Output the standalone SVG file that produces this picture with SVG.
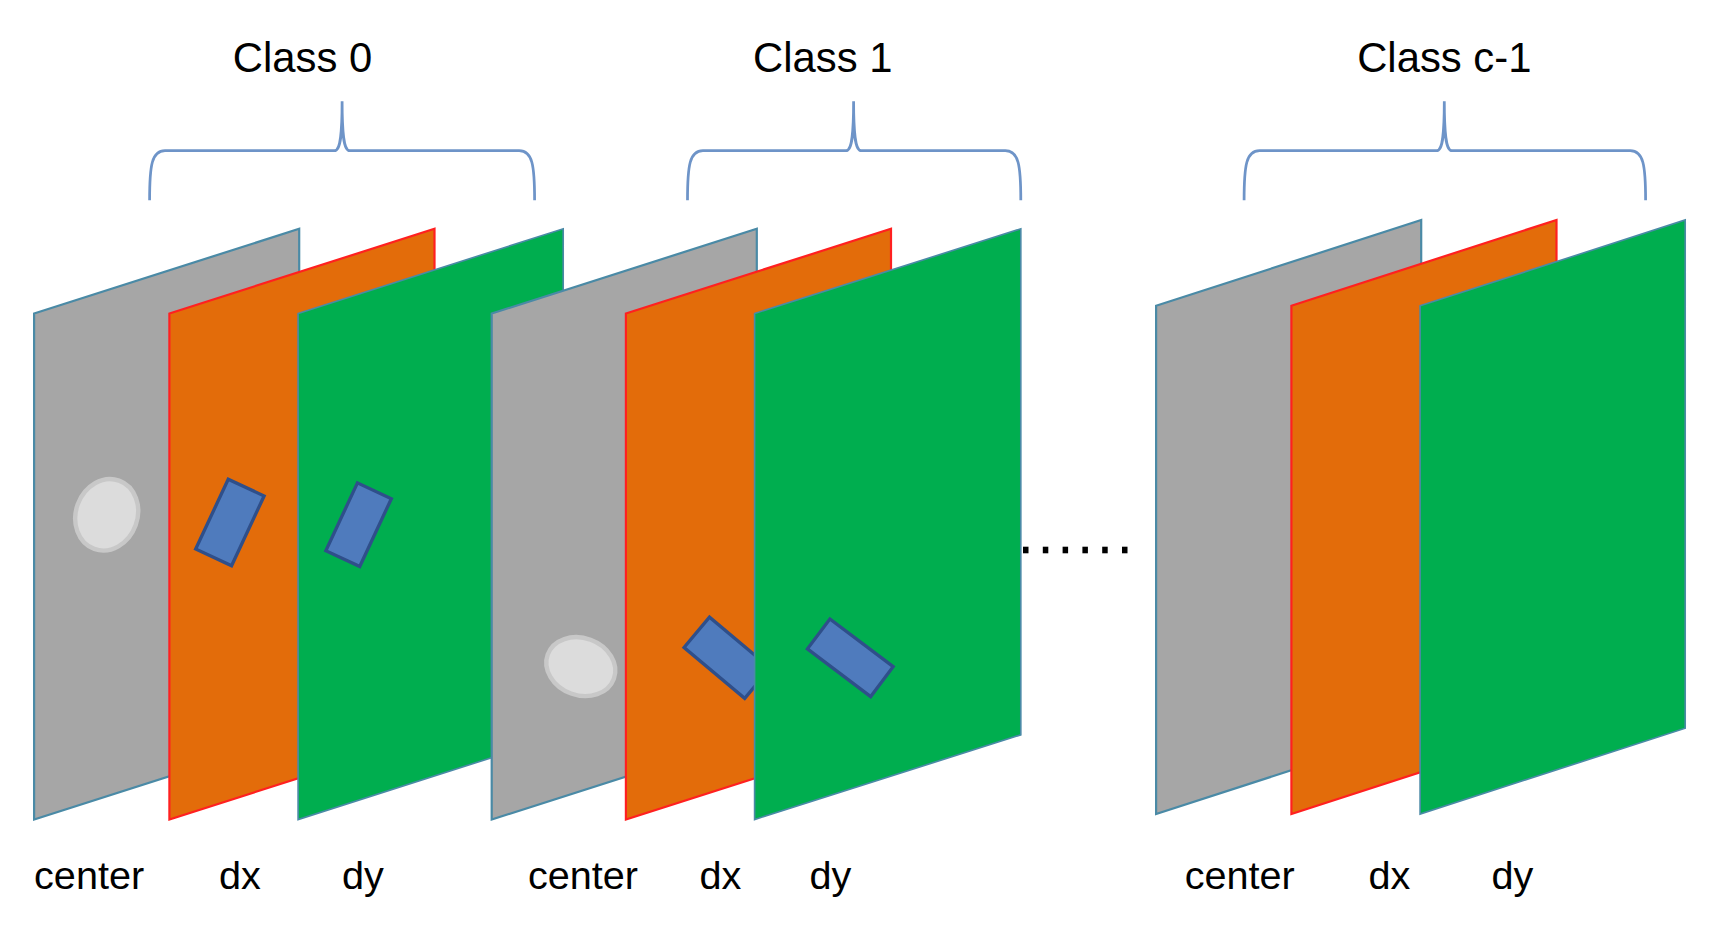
<svg xmlns="http://www.w3.org/2000/svg" width="1716" height="934" viewBox="0 0 1716 934">
<style>
.g{fill:#a6a6a6;stroke:#4a8aa6;stroke-width:2}
.o{fill:#e36c0a;stroke:#ff2020;stroke-width:2}
.n{fill:#00ae4f;stroke:#4a8aa6;stroke-width:1.5}
.br{fill:none;stroke:#6e94c8;stroke-width:2.5}
.b{fill:#4f7bbd;stroke:#2f4f8a;stroke-width:3}
.e{fill:#dcdcdc;stroke:#c8c8c8;stroke-width:4}
text{font-family:"Liberation Sans",Arial,sans-serif;fill:#000}
.t{font-size:38px;text-anchor:middle}
.l{font-size:36px;text-anchor:middle}
</style>
<rect width="1716" height="934" fill="#fff"/>
<g transform="scale(1.1)">
<g id="class0">
<text class="t" x="275" y="65">Class 0</text>
<path class="br" d="M136,182 C136,150 138,137 150,137 L304,137 C310,137 311,120 311,92 C311,120 312,137 318,137 L472,137 C484,137 486,150 486,182"/>
<polygon class="g" points="31,285 272,208 272,668 31,745"/>
<ellipse class="e" cx="97" cy="468" rx="28" ry="33" transform="rotate(20 97 468)"/>
<polygon class="o" points="154,285 395,208 395,668 154,745"/>
<rect class="b" x="191" y="440" width="36" height="70" transform="rotate(25 209 475)"/>
<polygon class="n" points="271,285 512,208 512,668 271,745"/>
<rect class="b" x="309" y="443" width="34" height="68" transform="rotate(25 326 477)"/>
<text class="l" x="81" y="808">center</text>
<text class="l" x="218" y="808">dx</text>
<text class="l" x="330" y="808">dy</text>
</g>
<g id="class1">
<text class="t" x="748" y="65">Class 1</text>
<path class="br" d="M625,182 C625,150 627,137 639,137 L769,137 C775,137 776,120 776,92 C776,120 777,137 783,137 L914,137 C926,137 928,150 928,182"/>
<polygon class="g" points="447,285 688,208 688,668 447,745"/>
<ellipse class="e" cx="528" cy="606" rx="32" ry="26" transform="rotate(20 528 606)"/>
<polygon class="o" points="569,285 810,208 810,668 569,745"/>
<rect class="b" x="625" y="580" width="72" height="36" transform="rotate(40 661 598)"/>
<polygon class="n" points="686,285 928,208 928,668 686,745"/>
<rect class="b" x="737" y="581" width="72" height="34" transform="rotate(37 773 598)"/>
<text class="l" x="530" y="808">center</text>
<text class="l" x="655" y="808">dx</text>
<text class="l" x="755" y="808">dy</text>
</g>
<g id="dots" fill="#000">
<rect x="930" y="497" width="5" height="6"/><rect x="948" y="497" width="5" height="6"/><rect x="966" y="497" width="5" height="6"/><rect x="984" y="497" width="5" height="6"/><rect x="1002" y="497" width="5" height="6"/><rect x="1020" y="497" width="5" height="6"/>
</g>
<g id="classc1">
<text class="t" x="1313" y="65">Class c-1</text>
<path class="br" d="M1131,182 C1131,150 1133,137 1145,137 L1306,137 C1312,137 1313,120 1313,92 C1313,120 1314,137 1320,137 L1482,137 C1494,137 1496,150 1496,182"/>
<polygon class="g" points="1051,278 1292,200 1292,662 1051,740"/>
<polygon class="o" points="1174,278 1415,200 1415,662 1174,740"/>
<polygon class="n" points="1291,278 1532,200 1532,662 1291,740"/>
<text class="l" x="1127" y="808">center</text>
<text class="l" x="1263" y="808">dx</text>
<text class="l" x="1375" y="808">dy</text>
</g>
</g>
</svg>
